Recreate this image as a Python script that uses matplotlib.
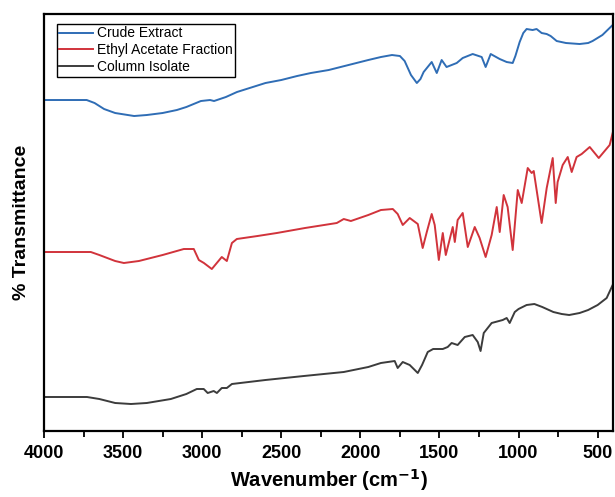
import numpy as np
import matplotlib
matplotlib.use('Agg')
import matplotlib.pyplot as plt
from matplotlib.ticker import MultipleLocator

plt.rcParams['font.family'] = ['Liberation Sans', 'DejaVu Sans']

# wavenumbers (cm-1) and offset transmittance
wn_crude = [4000, 3730, 3680, 3620, 3550, 3430, 3350, 3250, 3160, 3100, 3008, 2950,
            2925, 2850, 2780, 2700, 2600, 2500, 2400, 2313, 2200, 2050, 1950, 1870,
            1800, 1750, 1720, 1680, 1643, 1620, 1600, 1549, 1517, 1486, 1455, 1391,
            1353, 1290, 1233, 1208, 1176, 1119, 1075, 1037, 1020, 993, 970, 949, 911,
            886, 854, 822, 797, 759, 700, 614, 560, 532, 470, 405]
t_crude = [331, 331, 328, 322, 318, 315, 316, 318, 321, 324, 330, 331,
           330, 334, 339, 343, 348, 351, 355, 358, 361, 367, 371, 374,
           376, 375, 370, 356, 348, 352, 359, 369, 358, 371, 364, 368,
           373, 377, 374, 364, 377, 372, 369, 368, 375, 389, 398, 402, 401,
           402, 398, 397, 395, 390, 388, 387, 388, 390, 396, 406]

wn_ethyl = [4000, 3704, 3650, 3550, 3495, 3400, 3250, 3116, 3053, 3021, 2989, 2939,
            2876, 2844, 2812, 2781, 2650, 2528, 2350, 2149, 2105, 2060, 1950, 1870,
            1795, 1764, 1732, 1688, 1637, 1606, 1580, 1549, 1530, 1504, 1479, 1460,
            1416, 1403, 1385, 1353, 1321, 1277, 1246, 1208, 1170, 1138, 1119, 1094,
            1069, 1037, 1005, 980, 942, 917, 904, 854, 822, 784, 765, 753, 721, 689,
            664, 633, 601, 550, 493, 424, 405]
t_ethyl = [179, 179, 176, 170, 168, 170, 176, 182, 182, 171, 168, 162,
           174, 170, 188, 192, 195, 198, 203, 208, 212, 210, 216, 221,
           222, 217, 206, 213, 207, 183, 199, 217, 206, 171, 198, 176,
           204, 189, 211, 218, 184, 204, 193, 174, 196, 224, 199, 236,
           224, 181, 241, 228, 263, 258, 260, 208, 243, 273, 228, 249, 266, 274,
           259, 274, 277, 284, 273, 286, 298]

wn_column = [4000, 3728, 3650, 3550, 3450, 3350, 3198, 3100, 3034, 2990, 2965, 2927,
             2907, 2876, 2844, 2812, 2600, 2357, 2105, 1950, 1870, 1783, 1764, 1732,
             1688, 1637, 1610, 1574, 1540, 1479, 1448, 1423, 1385, 1340, 1290, 1258,
             1240, 1220, 1170, 1100, 1075, 1056, 1024, 1000, 949, 900, 850, 780, 727,
             680, 614, 560, 500, 443, 405]
t_column = [34, 34, 32, 28, 27, 28, 32, 37, 42, 42, 38, 40,
            38, 43, 43, 47, 51, 55, 59, 64, 68, 70, 63, 69,
            66, 58, 66, 79, 82, 82, 84, 88, 86, 94, 96, 89,
            80, 98, 108, 111, 113, 108, 119, 122, 126, 127, 124, 119, 117,
            116, 118, 121, 126, 133, 146]

fig = plt.figure(figsize=(6.15, 4.97), dpi=100)
ax = fig.add_axes([0.0715, 0.1328, 0.926, 0.839])

ax.plot(wn_crude, t_crude, color='#2f6db5', lw=1.4, label='Crude Extract')
ax.plot(wn_ethyl, t_ethyl, color='#d1333b', lw=1.4, label='Ethyl Acetate Fraction')
ax.plot(wn_column, t_column, color='#3c3c3c', lw=1.4, label='Column Isolate')

ax.set_xlim(4000, 400)
ax.set_ylim(0, 417)
ax.xaxis.set_major_locator(MultipleLocator(500))
ax.xaxis.set_minor_locator(MultipleLocator(250))
ax.set_yticks([])
ax.tick_params(axis='x', which='major', direction='out', length=5, width=1.3,
               labelsize=13, pad=5)
ax.tick_params(axis='x', which='minor', direction='out', length=4, width=1.3)
for lab in ax.get_xticklabels():
    lab.set_fontweight('bold')
for s in ax.spines.values():
    s.set_linewidth(1.6)

ax.set_xlabel('Wavenumber (cm$^{\\mathbf{-1}}$)', fontsize=14.5, fontweight='bold',
              labelpad=4)
ax.set_ylabel('% Transmittance', fontsize=14, fontweight='bold', labelpad=10)

leg = ax.legend(loc='upper left', bbox_to_anchor=(0.022, 0.977), fontsize=10,
                frameon=True, fancybox=False, edgecolor='black', framealpha=1,
                handlelength=2.4, handletextpad=0.3, labelspacing=0.2,
                borderpad=0.2, borderaxespad=0)
leg.get_frame().set_linewidth(1.0)

fig.savefig('out.png', dpi=100)
